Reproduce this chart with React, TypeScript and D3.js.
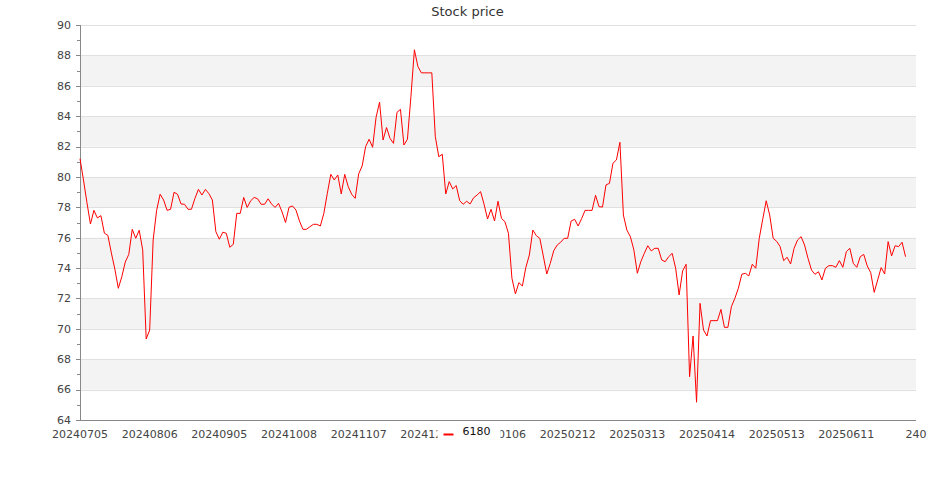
import { useEffect, useRef } from "react"
import * as d3 from "d3"

const title = "Stock price"
const seriesName = "6180"

// closing prices, one per trading day
const prices = [
  81.2, 79.8, 78.3, 76.9, 77.8, 77.3, 77.45, 76.3, 76.15, 75.0,
  73.94, 72.67, 73.43, 74.4, 74.9, 76.55, 75.96, 76.49, 75.2, 69.33,
  69.92, 75.85, 77.8, 78.86, 78.48, 77.8, 77.87, 78.99, 78.86, 78.22,
  78.2, 77.87, 77.87, 78.59, 79.18, 78.81, 79.18, 78.9, 78.48, 76.4,
  75.9, 76.36, 76.29, 75.37, 75.56, 77.6, 77.6, 78.65, 77.99, 78.43,
  78.65, 78.56, 78.2, 78.2, 78.56, 78.22, 77.99, 78.26, 77.7, 77.0,
  78.0, 78.09, 77.82, 77.1, 76.55, 76.55, 76.72, 76.88, 76.88, 76.77,
  77.6, 78.92, 80.17, 79.8, 80.13, 78.88, 80.17, 79.36, 78.86, 78.59,
  80.2, 80.72, 82.0, 82.48, 81.95, 83.93, 84.92, 82.43, 83.25, 82.54,
  82.21, 84.25, 84.45, 82.1, 82.48, 85.28, 88.37, 87.27, 86.85, 86.85,
  86.85, 86.85, 82.65, 81.33, 81.49, 78.88, 79.69, 79.21, 79.43, 78.44,
  78.2, 78.4, 78.22, 78.63, 78.81, 79.03, 78.2, 77.23, 77.87, 77.1,
  78.4, 77.27, 77.05, 76.29, 73.33, 72.3, 73.04, 72.82, 74.05, 74.86,
  76.5, 76.13, 75.96, 74.8, 73.61, 74.31, 75.14, 75.52, 75.7, 75.96,
  75.96, 77.1, 77.21, 76.77, 77.25, 77.8, 77.8, 77.8, 78.79, 78.04,
  78.02, 79.47, 79.58, 80.9, 81.12, 82.28, 77.49, 76.5, 76.07, 75.2,
  73.66, 74.42, 74.97, 75.47, 75.13, 75.3, 75.3, 74.53, 74.42, 74.75,
  74.97, 73.99, 72.23, 73.81, 74.25, 66.85, 69.53, 65.17, 71.68, 69.92,
  69.53, 70.54, 70.54, 70.54, 71.28, 70.1, 70.1, 71.46, 72.01, 72.67,
  73.59, 73.66, 73.48, 74.25, 73.99, 75.96, 77.21, 78.43, 77.49, 75.96,
  75.76, 75.41, 74.49, 74.71, 74.27, 75.3, 75.85, 76.07, 75.52, 74.64,
  73.87, 73.59, 73.76, 73.22, 73.99, 74.16, 74.16, 74.05, 74.49, 74.05,
  75.08, 75.3, 74.31, 74.05, 74.75, 74.9, 74.14, 73.7, 72.4, 73.22,
  74.03, 73.61, 75.74, 74.8, 75.47, 75.41, 75.7, 74.75,
]

// x ticks fall every 20 trading days; the last slot has no date so it shows its index
const tickIndexes = [0, 20, 40, 60, 80, 100, 120, 140, 160, 180, 200, 220, 240]
const tickLabels = [
  "20240705", "20240806", "20240905", "20241008", "20241107", "20241206",
  "20250106", "20250212", "20250313", "20250414", "20250513", "20250611", "240",
]

const yMin = 64
const yMax = 90
const yMajor = d3.range(yMin, yMax + 1, 2)
const yMinor = d3.range(yMin + 1, yMax, 2)

const App = () => {
  const svgRef = useRef<SVGSVGElement | null>(null)

  useEffect(() => {
    const width = 935
    const height = 500
    const margin = { top: 25, right: 19, bottom: 80, left: 80 }
    const font = "'DejaVu Sans', sans-serif"

    const svg = d3.select(svgRef.current)
    svg.selectAll("*").remove()
    svg.attr("width", width).attr("height", height)

    const x = d3
      .scaleLinear()
      .domain([0, 240])
      .range([margin.left, width - margin.right])
    const y = d3
      .scaleLinear()
      .domain([yMin, yMax])
      .range([height - margin.bottom, margin.top])

    // alternating bands
    svg
      .append("g")
      .selectAll("rect")
      .data(yMajor.slice(0, -1).filter((_, i) => i % 2 === 1))
      .enter()
      .append("rect")
      .attr("x", x(0))
      .attr("width", x(240) - x(0))
      .attr("y", (d) => y(d + 2))
      .attr("height", (d) => y(d) - y(d + 2))
      .attr("fill", "#f3f3f3")

    // grid lines
    svg
      .append("g")
      .selectAll("line")
      .data(yMajor)
      .enter()
      .append("line")
      .attr("x1", x(0))
      .attr("x2", x(240))
      .attr("y1", (d) => Math.round(y(d)) + 0.5)
      .attr("y2", (d) => Math.round(y(d)) + 0.5)
      .attr("stroke", "#e0e0e0")

    // y axis
    const yAxis = svg.append("g")
    yAxis
      .append("line")
      .attr("x1", x(0) + 0.5)
      .attr("x2", x(0) + 0.5)
      .attr("y1", y(yMax))
      .attr("y2", y(yMin))
      .attr("stroke", "#888")
    yAxis
      .selectAll(".major")
      .data(yMajor)
      .enter()
      .append("line")
      .attr("x1", x(0) - 4)
      .attr("x2", x(0))
      .attr("y1", (d) => Math.round(y(d)) + 0.5)
      .attr("y2", (d) => Math.round(y(d)) + 0.5)
      .attr("stroke", "#888")
    yAxis
      .selectAll(".minor")
      .data(yMinor)
      .enter()
      .append("line")
      .attr("x1", x(0) - 3)
      .attr("x2", x(0))
      .attr("y1", (d) => Math.round(y(d)) + 0.5)
      .attr("y2", (d) => Math.round(y(d)) + 0.5)
      .attr("stroke", "#888")
    yAxis
      .selectAll("text")
      .data(yMajor)
      .enter()
      .append("text")
      .attr("x", x(0) - 9)
      .attr("y", (d) => y(d))
      .attr("dy", "0.35em")
      .attr("text-anchor", "end")
      .attr("font-family", font)
      .attr("font-size", 11)
      .attr("fill", "#444")
      .text((d) => d)

    // x axis
    const xAxis = svg.append("g")
    xAxis
      .append("line")
      .attr("x1", x(0))
      .attr("x2", x(240))
      .attr("y1", Math.round(y(yMin)) + 0.5)
      .attr("y2", Math.round(y(yMin)) + 0.5)
      .attr("stroke", "#888")
    xAxis
      .selectAll("text")
      .data(tickIndexes)
      .enter()
      .append("text")
      .attr("x", (d) => x(d))
      .attr("y", y(yMin) + 18)
      .attr("text-anchor", "middle")
      .attr("font-family", font)
      .attr("font-size", 11)
      .attr("fill", "#444")
      .text((_, i) => tickLabels[i])

    // price line
    const line = d3
      .line<number>()
      .x((_, i) => x(i))
      .y((d) => y(d))
    svg
      .append("path")
      .datum(prices)
      .attr("d", line)
      .attr("fill", "none")
      .attr("stroke", "#ff0000")
      .attr("stroke-width", 1)

    // title
    svg
      .append("text")
      .attr("x", width / 2)
      .attr("y", 16)
      .attr("text-anchor", "middle")
      .attr("font-family", font)
      .attr("font-size", 13)
      .attr("fill", "#333")
      .text(title)

    // legend (sits on top of the axis labels)
    const legend = svg.append("g").attr("transform", `translate(${width / 2},${y(yMin) + 14})`)
    legend
      .append("rect")
      .attr("x", -30)
      .attr("y", -10)
      .attr("width", 63)
      .attr("height", 20)
      .attr("fill", "#fff")
    legend
      .append("line")
      .attr("x1", -24)
      .attr("x2", -14)
      .attr("y1", 0.5)
      .attr("y2", 0.5)
      .attr("stroke", "#ff0000")
      .attr("stroke-width", 2)
    legend
      .append("text")
      .attr("x", -5)
      .attr("y", 0)
      .attr("dy", "0.1em")
      .attr("font-family", font)
      .attr("font-size", 11)
      .attr("fill", "#111")
      .text(seriesName)
  }, [])

  return (
    <div style={{ position: "fixed", left: 0, top: 0, background: "#fff" }}>
      <svg ref={svgRef} style={{ display: "block" }}></svg>
    </div>
  )
}

export default App
